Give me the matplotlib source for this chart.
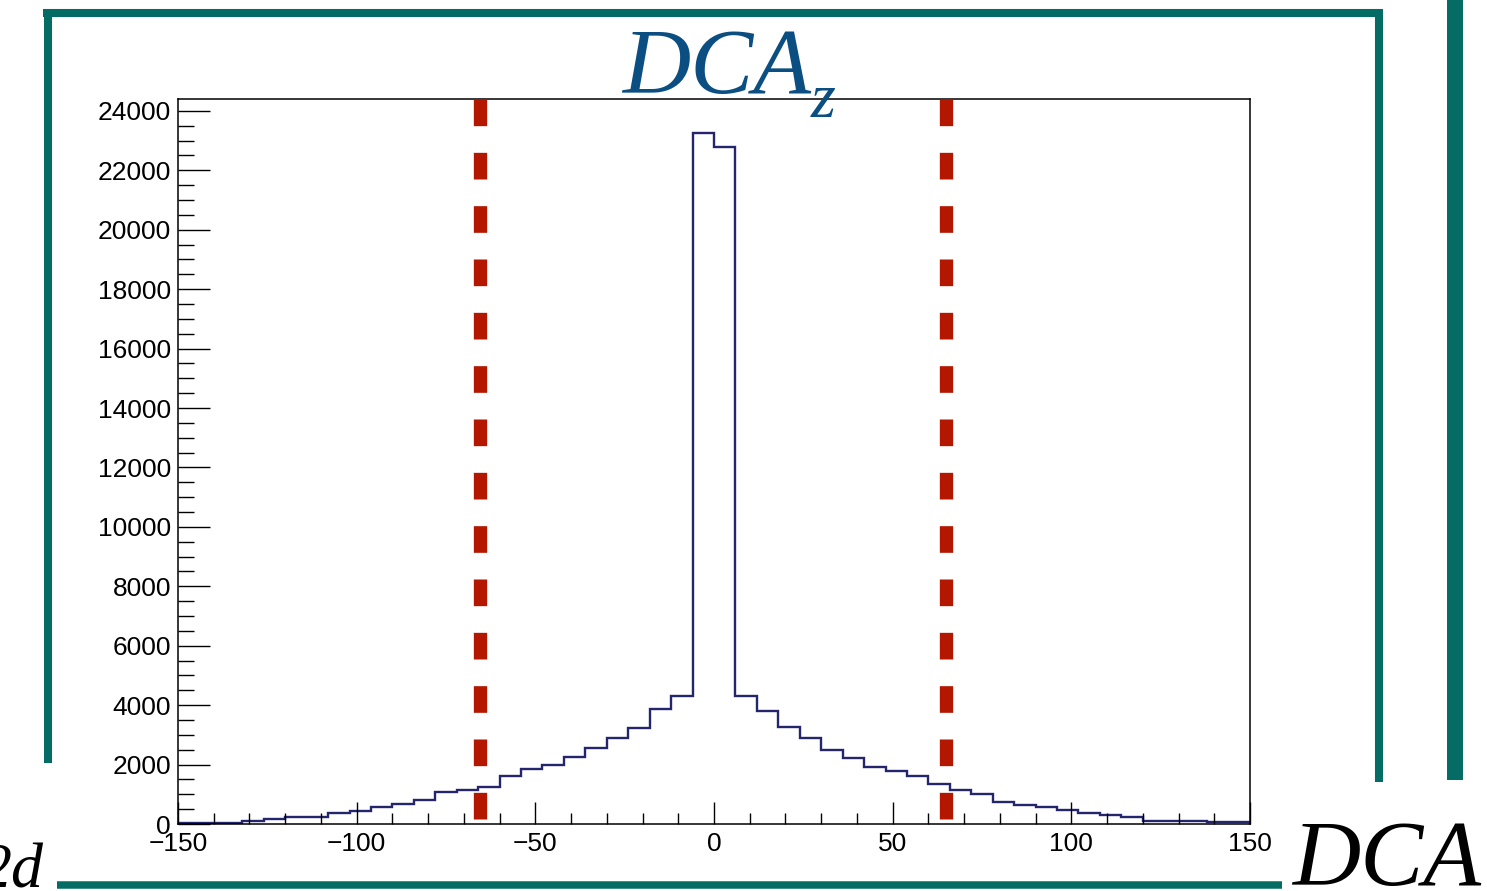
import numpy as np
import matplotlib
matplotlib.use("Agg")
import matplotlib.pyplot as plt
from matplotlib.ticker import MultipleLocator
from matplotlib.lines import Line2D

# =========================
# 0. 数据 (bin width 6, -150 .. 150)
# =========================

x_min, x_max = -150, 150
n_bins = 50

counts_left = [50, 50, 50, 110, 170, 225, 225, 370, 450, 560,
               675, 810, 1070, 1150, 1260, 1600, 1850, 1990, 2250, 2560,
               2890, 3220, 3870, 4300, 23250]
counts_right = [22800, 4300, 3790, 3280, 2890, 2490, 2220, 1910, 1790, 1600,
                1330, 1150, 1010, 740, 650, 585, 470, 360, 290, 225,
                110, 110, 110, 55, 55]

cut_values = [-65.5, 65]

xticks = [-150, -100, -50, 0, 50, 100, 150]

# =========================
# 1. 画布
# =========================

W, H = 1487, 891
plt.rcParams["font.family"] = ["Liberation Sans", "DejaVu Sans"]
plt.rcParams["lines.scale_dashes"] = False

fig = plt.figure(figsize=(W / 100, H / 100), dpi=100)
fig.patch.set_facecolor("white")

teal = "#046c64"
title_blue = "#0b4f82"
hist_color = "#25256e"
cut_red = "#b31700"


def px(x, y):
    return x / W, 1 - y / H


def frame_line(x0, y0, x1, y1, lw):
    (a, b), (c, d) = px(x0, y0), px(x1, y1)
    fig.add_artist(Line2D([a, c], [b, d], transform=fig.transFigure,
                          color=teal, linewidth=lw, solid_capstyle="butt"))


# 外框
frame_line(43, 13, 1383, 13, 5.8)
frame_line(47.5, 9, 47.5, 763, 5.8)
frame_line(1379, 9, 1379, 782, 5.8)
frame_line(57, 884.5, 1282, 884.5, 5.4)
# 右侧粗糙竖条
frame_line(1455, 0, 1455, 780, 11.5)

# =========================
# 2. 直方图
# =========================

ax = fig.add_axes([178 / W, 1 - 824 / H, (1250 - 178) / W, (824 - 99) / H])

edges = np.linspace(x_min, x_max, n_bins + 1)
counts = np.array(counts_left + counts_right)

ax.stairs(counts, edges, baseline=0, fill=False,
          color=hist_color, linewidth=1.7)

ax.set_xlim(x_min, x_max)
ax.set_ylim(0, 24400)

for xc in cut_values:
    ax.plot([xc, xc], [24400, 130], color=cut_red, linewidth=9.6,
            linestyle=(0, (19.2, 19.2)), solid_capstyle="butt",
            dash_capstyle="butt", clip_on=False, zorder=3)

ax.set_xticks(xticks)
ax.xaxis.set_minor_locator(MultipleLocator(10))
ax.yaxis.set_major_locator(MultipleLocator(2000))
ax.yaxis.set_minor_locator(MultipleLocator(500))

ax.tick_params(axis="x", which="major", direction="in", length=16, width=1.0,
               labelsize=19, pad=6)
ax.tick_params(axis="x", which="minor", direction="in", length=8, width=1.0)
ax.tick_params(axis="y", which="major", direction="in", length=23, width=1.0,
               labelsize=19, pad=5)
ax.tick_params(axis="y", which="minor", direction="in", length=11.5, width=1.0)
ax.tick_params(top=False, right=False, which="both")

for s in ax.spines.values():
    s.set_linewidth(1.1)
    s.set_color("black")

# =========================
# 3. 文本
# =========================

serif_it = dict(family=["Liberation Serif", "DejaVu Serif"], style="italic")

fig.text(*px(622, 93), "DCA", ha="left", va="baseline", fontsize=68,
         color=title_blue, **serif_it)
fig.text(*px(811, 117), "z", ha="left", va="baseline", fontsize=46,
         color=title_blue, **serif_it)

fig.text(*px(1292, 885), "DCA", ha="left", va="baseline", fontsize=68,
         color="black", **serif_it)
fig.text(*px(44, 887), "2d", ha="right", va="baseline", fontsize=46,
         color="black", **serif_it)

fig.savefig("out.png", dpi=100)
